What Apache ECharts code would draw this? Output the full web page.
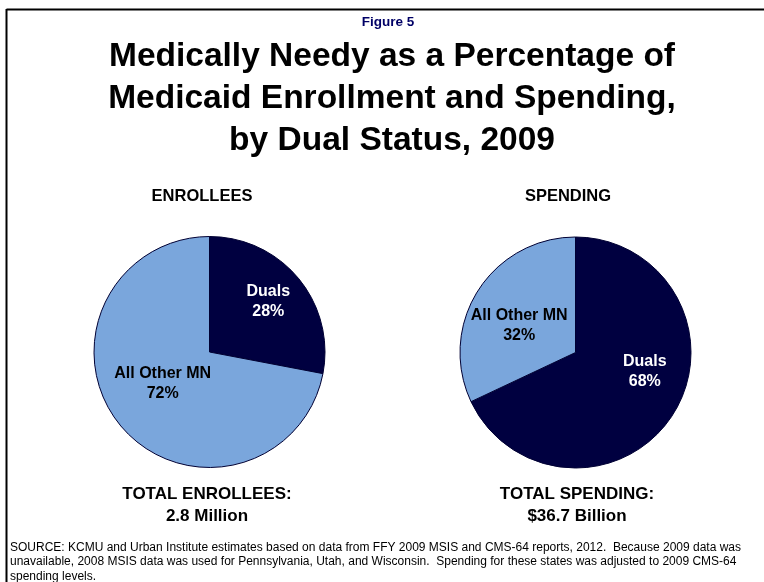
<!DOCTYPE html>
<html>
<head>
<meta charset="utf-8">
<script src="https://cdn.jsdelivr.net/npm/echarts@6/dist/echarts.min.js"></script>
<style>
html,body{margin:0;padding:0;background:#fff;}
#chart{width:764px;height:582px;}
</style>
</head>
<body>
<div id="chart"></div>
<script>
const categories = ['Duals', 'All Other MN'];
const enrolleeShares = [28, 72];
const spendingShares = [68, 32];
const panelTitles = ['ENROLLEES', 'SPENDING'];
const totalLabels = ['TOTAL ENROLLEES:\n2.8 Million', 'TOTAL SPENDING:\n$36.7 Billion'];
const figureLabel = 'Figure 5';
const mainTitle = 'Medically Needy as a Percentage of\nMedicaid Enrollment and Spending,\nby Dual Status, 2009';
const sourceNote = 'SOURCE: KCMU and Urban Institute estimates based on data from FFY 2009 MSIS and CMS-64 reports, 2012.  Because 2009 data was\nunavailable, 2008 MSIS data was used for Pennsylvania, Utah, and Wisconsin.  Spending for these states was adjusted to 2009 CMS-64\nspending levels.';

const DARK = '#000040';
const LIGHT = '#7AA6DC';
const FONT = '"Liberation Sans", Arial, sans-serif';

function pieData(values) {
  return categories.map((c, i) => ({
    name: c,
    value: values[i],
    itemStyle: { color: i === 0 ? DARK : LIGHT },
    label: { color: i === 0 ? '#ffffff' : '#000000' }
  }));
}

const labelShift = [
  [[12, -12], [0, -7]],
  [[18, -13], [-5, 6]]
];

function makePie(idx, values, center) {
  return {
    type: 'pie',
    center: center,
    radius: 115.5,
    startAngle: 90,
    clockwise: true,
    animation: false,
    silent: true,
    itemStyle: { borderColor: '#000033', borderWidth: 1 },
    label: {
      show: true,
      position: 'inside',
      formatter: p => p.name + '\n' + p.value + '%',
      fontFamily: FONT,
      fontWeight: 'bold',
      fontSize: 16,
      lineHeight: 20
    },
    labelLine: { show: false },
    labelLayout: function (params) {
      const s = labelShift[idx][params.dataIndex];
      return { dx: s[0], dy: s[1] };
    },
    data: pieData(values)
  };
}

function t(text, left, top, style, align) {
  return Object.assign({ text: text, left: left, top: top, padding: 0, textAlign: align || 'center' },
    { textStyle: Object.assign({ fontFamily: FONT, fontWeight: 'bold', color: '#000000' }, style) });
}

const chart = echarts.init(document.getElementById('chart'), null, { renderer: 'canvas' });
chart.setOption({
  backgroundColor: '#ffffff',
  animation: false,
  title: [
    t(figureLabel, 388, 14, { fontSize: 13.5, lineHeight: 16, color: '#000066' }),
    t(mainTitle, 392, 36, { fontSize: 33.5, lineHeight: 42 }),
    t(panelTitles[0], 202, 186, { fontSize: 16.5, lineHeight: 20 }),
    t(panelTitles[1], 568, 186, { fontSize: 16.5, lineHeight: 20 }),
    t(totalLabels[0], 207, 483, { fontSize: 17, lineHeight: 22 }),
    t(totalLabels[1], 577, 483, { fontSize: 17, lineHeight: 22 }),
    t(sourceNote, 10, 540, { fontWeight: 'normal', fontSize: 12, lineHeight: 14.5 }, 'left')
  ],
  graphic: [
    { type: 'line', silent: true, shape: { x1: 6.5, y1: 9.5, x2: 764, y2: 9.5 }, style: { stroke: '#000', lineWidth: 2 } },
    { type: 'line', silent: true, shape: { x1: 6.5, y1: 9, x2: 6.5, y2: 582 }, style: { stroke: '#000', lineWidth: 2 } }
  ],
  series: [
    makePie(0, enrolleeShares, [209.5, 352]),
    makePie(1, spendingShares, [575.5, 352.5])
  ]
});
</script>
</body>
</html>
